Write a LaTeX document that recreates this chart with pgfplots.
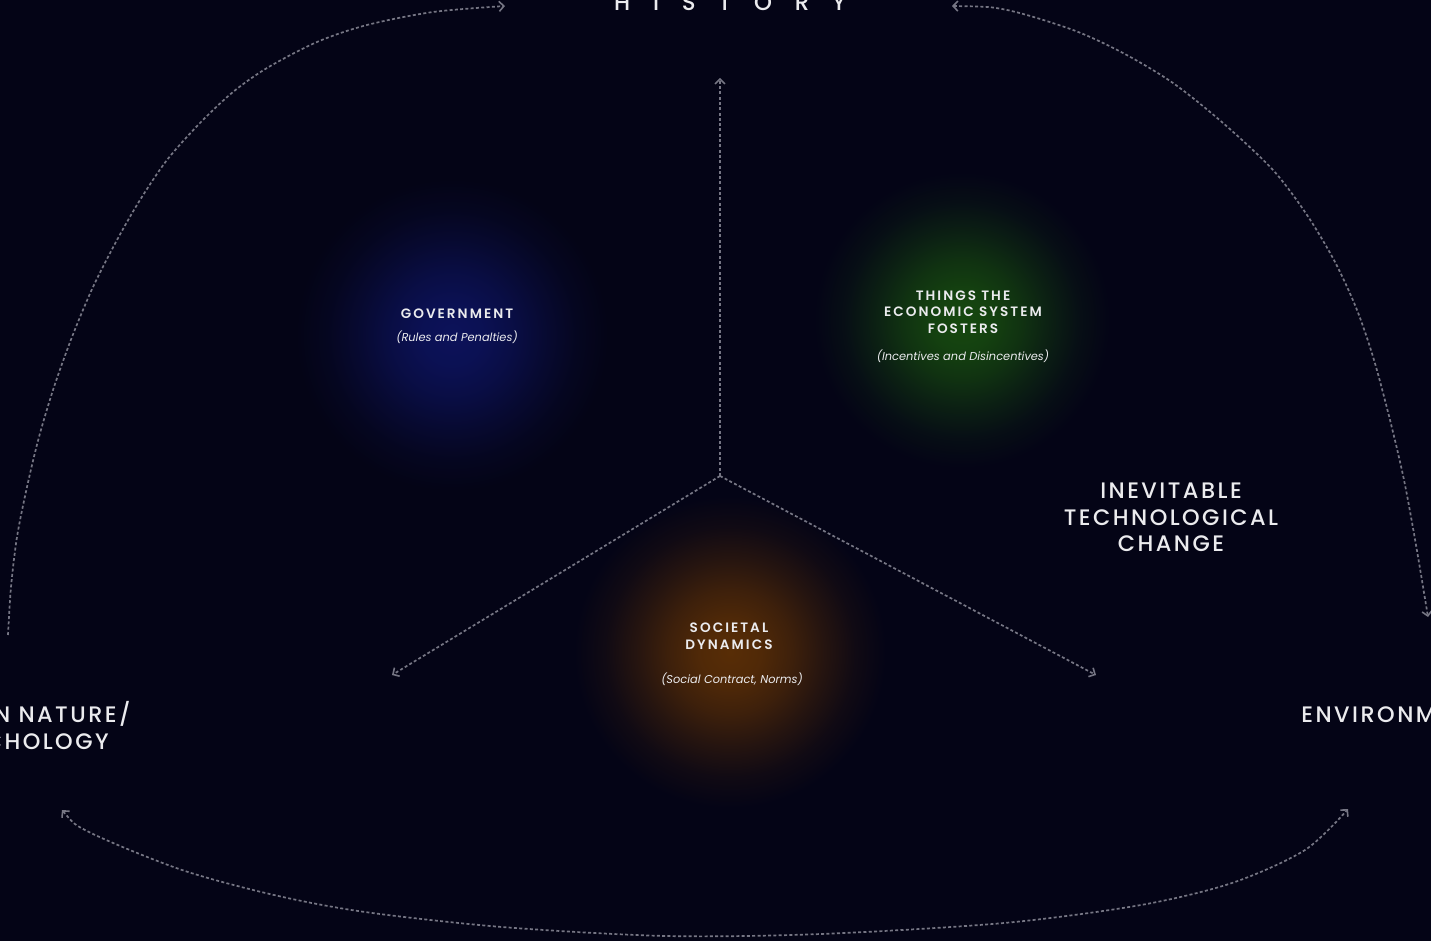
\documentclass[border=0pt]{standalone}
\usepackage{pgfplots}
\pgfplotsset{compat=1.18}
\usetikzlibrary{arrows.meta}
\usepackage{fontspec}
\setmainfont{Poppins}
\IfFontExistsTF{Poppins Medium}{%
  \newfontfamily\bigfont[LetterSpace=11]{Poppins Medium}%
  \newfontfamily\sidefont[LetterSpace=11]{Poppins Medium}%
  \newfontfamily\histfont[LetterSpace=100]{Poppins Medium}%
}{%
  \newfontfamily\bigfont[LetterSpace=11]{Poppins}%
  \newfontfamily\sidefont[LetterSpace=12]{Poppins}%
  \newfontfamily\histfont[LetterSpace=100]{Poppins}%
}
\IfFontExistsTF{Poppins SemiBold}{%
  \newfontfamily\labfont[LetterSpace=15]{Poppins SemiBold}%
}{%
  \newfontfamily\labfont[LetterSpace=15,FakeBold=0.8]{Poppins}%
}

\definecolor{bg}{RGB}{4,4,22}
\definecolor{txt}{RGB}{235,235,238}
\definecolor{linegray}{RGB}{118,118,132}
\definecolor{gblue}{RGB}{12,18,90}
\definecolor{ggreen}{RGB}{22,72,15}
\definecolor{gorange}{RGB}{88,45,6}

% soft glows, fading into the background colour at the mark's rim
\pgfdeclareradialshading{glowB}{\pgfpoint{0bp}{0bp}}{color(0bp)=(gblue); color(5bp)=(gblue!90!bg); color(10bp)=(gblue!68!bg); color(15bp)=(gblue!40!bg); color(20bp)=(gblue!15!bg); color(25bp)=(bg); color(50bp)=(bg)}
\pgfdeclareradialshading{glowG}{\pgfpoint{0bp}{0bp}}{color(0bp)=(ggreen); color(5bp)=(ggreen!90!bg); color(10bp)=(ggreen!68!bg); color(15bp)=(ggreen!40!bg); color(20bp)=(ggreen!15!bg); color(25bp)=(bg); color(50bp)=(bg)}
\pgfdeclareradialshading{glowO}{\pgfpoint{0bp}{0bp}}{color(0bp)=(gorange); color(5bp)=(gorange!90!bg); color(10bp)=(gorange!68!bg); color(15bp)=(gorange!40!bg); color(20bp)=(gorange!15!bg); color(25bp)=(bg); color(50bp)=(bg)}
\pgfdeclareplotmark{glowB}{\pgfpathcircle{\pgfpointorigin}{\pgfplotmarksize}\pgfshadepath{glowB}{0}\pgfusepath{discard}}
\pgfdeclareplotmark{glowG}{\pgfpathcircle{\pgfpointorigin}{\pgfplotmarksize}\pgfshadepath{glowG}{0}\pgfusepath{discard}}
\pgfdeclareplotmark{glowO}{\pgfpathcircle{\pgfpointorigin}{\pgfplotmarksize}\pgfshadepath{glowO}{0}\pgfusepath{discard}}

\tikzset{
    arr/.style={color=linegray, line width=0.85pt, dash pattern=on 1.5pt off 1.15pt},
    tip/.style={-{Straight Barb[length=2.4pt,width=5pt,line width=0.8pt]}},
    tips/.style={{Straight Barb[length=2.4pt,width=5pt,line width=0.8pt]}-{Straight Barb[length=2.4pt,width=5pt,line width=0.8pt]}},
    lab/.style={text=txt, inner sep=0pt, anchor=base},
}
\pgfplotsset{
    canvas/.style={
        at={(0pt,0pt)}, anchor=south west,
        width=715.5pt, height=470.5pt, scale only axis,
        xmin=0, xmax=1431, ymin=0, ymax=941, y dir=reverse,
        axis line style={draw=none}, ticks=none, clip=false,
    },
}

\begin{document}
\begin{tikzpicture}
\path[use as bounding box] (0,0) rectangle (715.5pt,470.5pt);
\clip (0,0) rectangle (715.5pt,470.5pt);

% background and glows
\begin{axis}[canvas, axis background/.style={fill=bg}]
\addplot[only marks, mark=glowB, mark size=78pt] coordinates {(452,335)};
\addplot[only marks, mark=glowG, mark size=74pt] coordinates {(962,320)};
\addplot[only marks, mark=glowO, mark size=78pt] coordinates {(730,652)};
\end{axis}

% arrows and labels
\begin{axis}[canvas]
\addplot[arr, tip, mark=none] coordinates {(720,476) (720,78)};
\addplot[arr, tip, mark=none] coordinates {(720,476) (392,675)};
\addplot[arr, tip, mark=none] coordinates {(720,476) (1096,675)};

% left arc
\addplot[arr, tip, mark=none, smooth] coordinates {
    (8,635) (11,587) (17,537) (27,487) (39,437) (54,387) (72,337) (93,287)
    (117,240) (140,200) (167,160) (200,123) (233,92) (267,68)
    (317,42) (367,25) (433,12) (505,6)};
% right arc
\addplot[arr, tips, mark=none, smooth] coordinates {
    (952,6) (1007,10) (1073,30) (1123,53) (1173,83) (1223,123) (1273,170)
    (1307,215) (1335,262) (1357,310) (1374,360) (1390,420) (1404,480)
    (1416,545) (1428,617)};
% bottom arc
\addplot[arr, tips, mark=none, smooth] coordinates {
    (62,810) (91,833) (182,870) (274,895) (365,912) (502,927) (666,936)
    (821,934) (1004,923) (1141,905) (1232,883) (1305,850) (1348,809)};

\node[lab] at (axis cs:730,11) {\fontsize{11.4}{12}\histfont HISTORY};

\node[lab] at (axis cs:457,319) {\fontsize{6.8}{8}\labfont GOVERNMENT};
\node[lab] at (axis cs:457,342) {\fontsize{5.7}{8}\selectfont\itshape (Rules and Penalties)};

\node[lab] at (axis cs:963,300.5) {\fontsize{6.8}{8}\labfont THINGS THE};
\node[lab] at (axis cs:963,317) {\fontsize{6.8}{8}\labfont ECONOMIC SYSTEM};
\node[lab] at (axis cs:963,333.5) {\fontsize{6.8}{8}\labfont FOSTERS};
\node[lab] at (axis cs:963,361) {\fontsize{5.7}{8}\selectfont\itshape (Incentives and Disincentives)};

\node[lab] at (axis cs:729,632) {\fontsize{6.8}{8}\labfont SOCIETAL};
\node[lab] at (axis cs:729,649) {\fontsize{6.8}{8}\labfont DYNAMICS};
\node[lab] at (axis cs:732,683) {\fontsize{5.7}{8}\selectfont\itshape (Social Contract, Norms)};

\node[lab] at (axis cs:1171,498.5) {\fontsize{11.2}{12}\bigfont INEVITABLE};
\node[lab] at (axis cs:1171,525) {\fontsize{11.2}{12}\bigfont TECHNOLOGICAL};
\node[lab] at (axis cs:1171,552) {\fontsize{11.2}{12}\bigfont CHANGE};

\node[lab, anchor=base east] at (axis cs:131,722) {\fontsize{11.2}{12}\sidefont HUMAN NATURE/};
\node[lab, anchor=base east] at (axis cs:109,749) {\fontsize{11.2}{12}\sidefont PSYCHOLOGY};
\node[lab, anchor=base west] at (axis cs:1301,722) {\fontsize{11.2}{12}\sidefont ENVIRONMENT};
\end{axis}
\end{tikzpicture}
\end{document}
